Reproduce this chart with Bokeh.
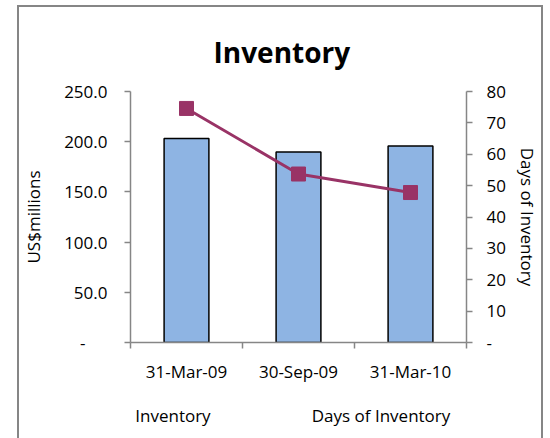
from bokeh.plotting import figure
from bokeh.models import Range1d, LinearAxis, FixedTicker, ColumnDataSource
from bokeh.embed import file_html
from bokeh.resources import INLINE

# ---- data ----
dates = ["31-Mar-09", "30-Sep-09", "31-Mar-10"]
inventory = [203.3, 189.7, 195.7]          # US$ millions
days_of_inventory = [74.6, 53.7, 47.8]     # days
left_ticks = [0, 50, 100, 150, 200, 250]
left_tick_labels = ["-\u00a0\u00a0\u00a0\u00a0\u00a0", "50.0", "100.0", "150.0", "200.0", "250.0"]
right_ticks = [0, 10, 20, 30, 40, 50, 60, 70, 80]
right_tick_labels = ["-", "10", "20", "30", "40", "50", "60", "70", "80"]
series_names = ["Inventory", "Days of Inventory"]

FONT = "Open Sans"
AXIS_COLOR = "#868686"
BAR_COLOR = "#8EB4E3"
LINE_COLOR = "#993366"
LEGEND_TEXT_POS = [0.379, 2.237]   # layout: legend text centres along the x axis

n = len(dates)
slot_centers = [i + 0.5 for i in range(n)]
src = ColumnDataSource(dict(x=slot_centers, date=dates, inventory=inventory, days=days_of_inventory))

p = figure(width=522, height=431,
           x_range=Range1d(0, n), y_range=Range1d(0, 250),
           x_axis_location=None, y_axis_location="left",
           output_backend="svg", toolbar_location=None,
           min_border_left=110, min_border_right=68,
           min_border_top=84, min_border_bottom=96)
p.styles = {"outline": "2px solid #868686", "margin-left": "19px", "margin-top": "7px"}
p.grid.visible = False
p.outline_line_color = None

p.title.text = "Inventory"
p.title.align = "left"
p.title.offset = 83
p.title.standoff = 41
p.title.text_font = FONT
p.title.text_font_size = "28px"
p.title.text_font_style = "bold"
p.title.text_color = "black"

def style_axis(ax):
    ax.axis_line_color = AXIS_COLOR
    ax.axis_line_width = 1.5
    ax.major_tick_line_color = AXIS_COLOR
    ax.major_tick_line_width = 1.5
    ax.major_tick_in = 0
    ax.major_tick_out = 6
    ax.minor_tick_line_color = None
    ax.major_label_text_font = FONT
    ax.major_label_text_font_size = "17px"
    ax.major_label_text_color = "black"
    ax.axis_label_text_font = FONT
    ax.axis_label_text_font_size = "17px"
    ax.axis_label_text_font_style = "normal"
    ax.axis_label_text_color = "black"

ly = p.yaxis[0]
style_axis(ly)
ly.ticker = FixedTicker(ticks=left_ticks)
ly.major_label_overrides = {t: s for t, s in zip(left_ticks, left_tick_labels)}
ly.axis_label = "US$millions"
ly.major_label_standoff = 17
ly.axis_label_standoff = 16

p.extra_y_ranges = {"days": Range1d(0, 80)}
ry = LinearAxis(y_range_name="days", ticker=FixedTicker(ticks=right_ticks),
                axis_label="Days of Inventory")
style_axis(ry)
ry.major_label_overrides = {t: s for t, s in zip(right_ticks, right_tick_labels)}
ry.major_label_standoff = 14
ry.axis_label_standoff = 7
p.add_layout(ry, "right")

bounds = list(range(n + 1))
bx = LinearAxis(ticker=FixedTicker(ticks=bounds))
style_axis(bx)
bx.major_label_overrides = {b: "" for b in bounds}
bx.major_label_text_font_size = "1px"
bx.major_label_standoff = 0
p.add_layout(bx, "below")

cx = LinearAxis(ticker=FixedTicker(ticks=slot_centers))
style_axis(cx)
cx.axis_line_color = None
cx.major_tick_line_color = None
cx.major_label_overrides = {c: d for c, d in zip(slot_centers, dates)}
cx.major_label_standoff = 5
p.add_layout(cx, "below")

# legend texts (as a label-only axis row below the category labels)
lx = LinearAxis(ticker=FixedTicker(ticks=LEGEND_TEXT_POS))
style_axis(lx)
lx.axis_line_color = None
lx.major_tick_line_color = None
lx.major_tick_out = 0
lx.major_label_overrides = {pos: s for pos, s in zip(LEGEND_TEXT_POS, series_names)}
lx.major_label_standoff = 18
p.add_layout(lx, "below")

p.vbar(x="x", top="inventory", width=0.4, source=src,
       fill_color=BAR_COLOR, line_color="black", line_width=1.5)
p.line(x="x", y="days", source=src, y_range_name="days",
       line_color=LINE_COLOR, line_width=3)
p.scatter(x="x", y="days", source=src, y_range_name="days",
          marker="square", size=14, fill_color=LINE_COLOR, line_color=LINE_COLOR)

open("out.html", "w").write(file_html(p, INLINE))
